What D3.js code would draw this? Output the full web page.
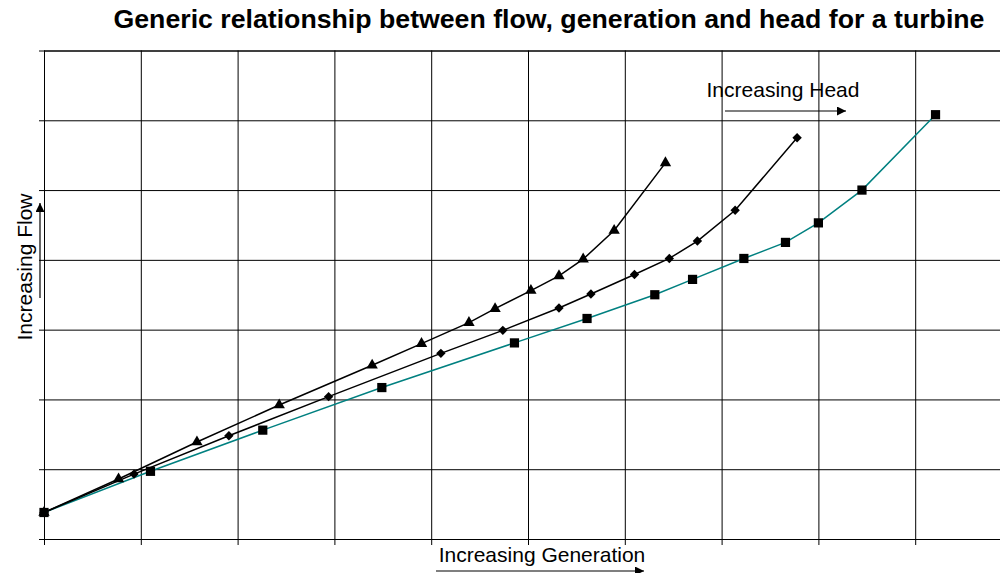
<!DOCTYPE html>
<html>
<head>
<meta charset="utf-8">
<script src="https://cdn.jsdelivr.net/npm/d3@7"></script>
<style>
  body { margin: 0; background: #fff; }
  svg text { font-family: "Liberation Sans", Arial, sans-serif; fill: #000; }
</style>
</head>
<body>
<div id="chart-container"></div>
<script>
// values (generation on x, flow on y, arbitrary units)
const xTicks = [0, 1, 2, 3, 4, 5, 6, 7, 8, 9, 10];
const yTicks = [0, 1, 2, 3, 4, 5, 6, 7];

const triangleGen  = [0, 0.77, 1.58, 2.43, 3.39, 3.90, 4.39, 4.66, 5.03, 5.32, 5.57, 5.89, 6.42];
const triangleFlow = [0.38, 0.86, 1.39, 1.92, 2.49, 2.80, 3.10, 3.30, 3.56, 3.77, 4.01, 4.42, 5.39];

const diamondGen  = [0, 0.93, 1.91, 2.94, 4.10, 4.74, 5.32, 5.65, 6.10, 6.46, 6.75, 7.14, 7.78];
const diamondFlow = [0.38, 0.93, 1.48, 2.04, 2.66, 2.99, 3.31, 3.51, 3.79, 4.02, 4.27, 4.71, 5.75];

const squareGen  = [0, 1.10, 2.26, 3.49, 4.86, 5.61, 6.31, 6.70, 7.23, 7.66, 8.00, 8.45, 9.21];
const squareFlow = [0.38, 0.97, 1.56, 2.17, 2.81, 3.16, 3.50, 3.72, 4.02, 4.25, 4.53, 5.00, 6.08];

const titleText = "Generic relationship between flow, generation and head for a turbine";

// chart size
const margin = {top: 50.5, left: 44};
const width = 968;
const height = 488.5;

const svg = d3.select("#chart-container")
    .append("svg")
        .attr("width", 1000)
        .attr("height", 573);

const g = svg.append("g")
    .attr("transform", `translate(${margin.left}, ${margin.top})`);

const xScale = d3.scaleLinear().domain([0, 10]).range([0, width]);
const yScale = d3.scaleLinear().domain([0, 7]).range([height, 0]);

// grid + axes
const yAxis = g.append("g")
    .call(d3.axisLeft(yScale).tickValues(yTicks).tickSize(-width).tickFormat(""));
yAxis.selectAll(".tick line").attr("x1", -5).attr("stroke", "#000");
yAxis.select(".domain").attr("stroke", "#000");

const xAxis = g.append("g")
    .attr("transform", `translate(0, ${height})`)
    .call(d3.axisBottom(xScale).tickValues(xTicks).tickSize(-height).tickFormat(""));
xAxis.selectAll(".tick line").attr("y1", 6).attr("stroke", "#000");
xAxis.select(".domain").attr("stroke", "#000");

// series
const series = [
    {gen: squareGen, flow: squareFlow, color: "#008080", symbol: d3.symbolSquare, size: 85, rotate: 0},
    {gen: diamondGen, flow: diamondFlow, color: "#000", symbol: d3.symbolSquare, size: 44, rotate: 45},
    {gen: triangleGen, flow: triangleFlow, color: "#000", symbol: d3.symbolTriangle, size: 56, rotate: 0}
];

const line = d3.line()
    .x(d => xScale(d[0]))
    .y(d => yScale(d[1]));

series.forEach(s => {
    const pts = s.gen.map((v, i) => [v, s.flow[i]]);
    g.append("path")
        .datum(pts)
        .attr("fill", "none")
        .attr("stroke", s.color)
        .attr("stroke-width", 1.5)
        .attr("d", line);
    g.selectAll(null)
        .data(pts)
        .join("path")
            .attr("d", d3.symbol().type(s.symbol).size(s.size))
            .attr("fill", "#000")
            .attr("transform", d => `translate(${xScale(d[0])}, ${yScale(d[1])}) rotate(${s.rotate})`);
});

// arrow marker
svg.append("defs").append("marker")
    .attr("id", "arrow")
    .attr("viewBox", "0 0 10 10")
    .attr("refX", 10).attr("refY", 5)
    .attr("markerWidth", 13).attr("markerHeight", 9)
    .attr("markerUnits", "userSpaceOnUse")
    .attr("orient", "auto")
  .append("path")
    .attr("d", "M0,0L10,5L0,10Z")
    .attr("fill", "#000");

// title
svg.append("text")
    .attr("x", 549)
    .attr("y", 27.5)
    .attr("text-anchor", "middle")
    .style("font-size", "26.7px")
    .style("font-weight", "bold")
    .text(titleText);

// x label + arrow
svg.append("text")
    .attr("x", 542)
    .attr("y", 562)
    .attr("text-anchor", "middle")
    .style("font-size", "21px")
    .text("Increasing Generation");
svg.append("line")
    .attr("x1", 436).attr("x2", 644)
    .attr("y1", 571).attr("y2", 571)
    .attr("stroke", "#000").attr("stroke-width", 1.2)
    .attr("marker-end", "url(#arrow)");

// y label + arrow
svg.append("text")
    .attr("transform", "translate(32, 267) rotate(-90)")
    .attr("text-anchor", "middle")
    .style("font-size", "21px")
    .text("Increasing Flow");
svg.append("line")
    .attr("x1", 40).attr("x2", 40)
    .attr("y1", 298).attr("y2", 203)
    .attr("stroke", "#000").attr("stroke-width", 1.2)
    .attr("marker-end", "url(#arrow)");

// head annotation
svg.append("text")
    .attr("x", 783)
    .attr("y", 97)
    .attr("text-anchor", "middle")
    .style("font-size", "21px")
    .text("Increasing Head");
svg.append("line")
    .attr("x1", 725).attr("x2", 846)
    .attr("y1", 111).attr("y2", 111)
    .attr("stroke", "#000").attr("stroke-width", 1.2)
    .attr("marker-end", "url(#arrow)");
</script>
</body>
</html>
